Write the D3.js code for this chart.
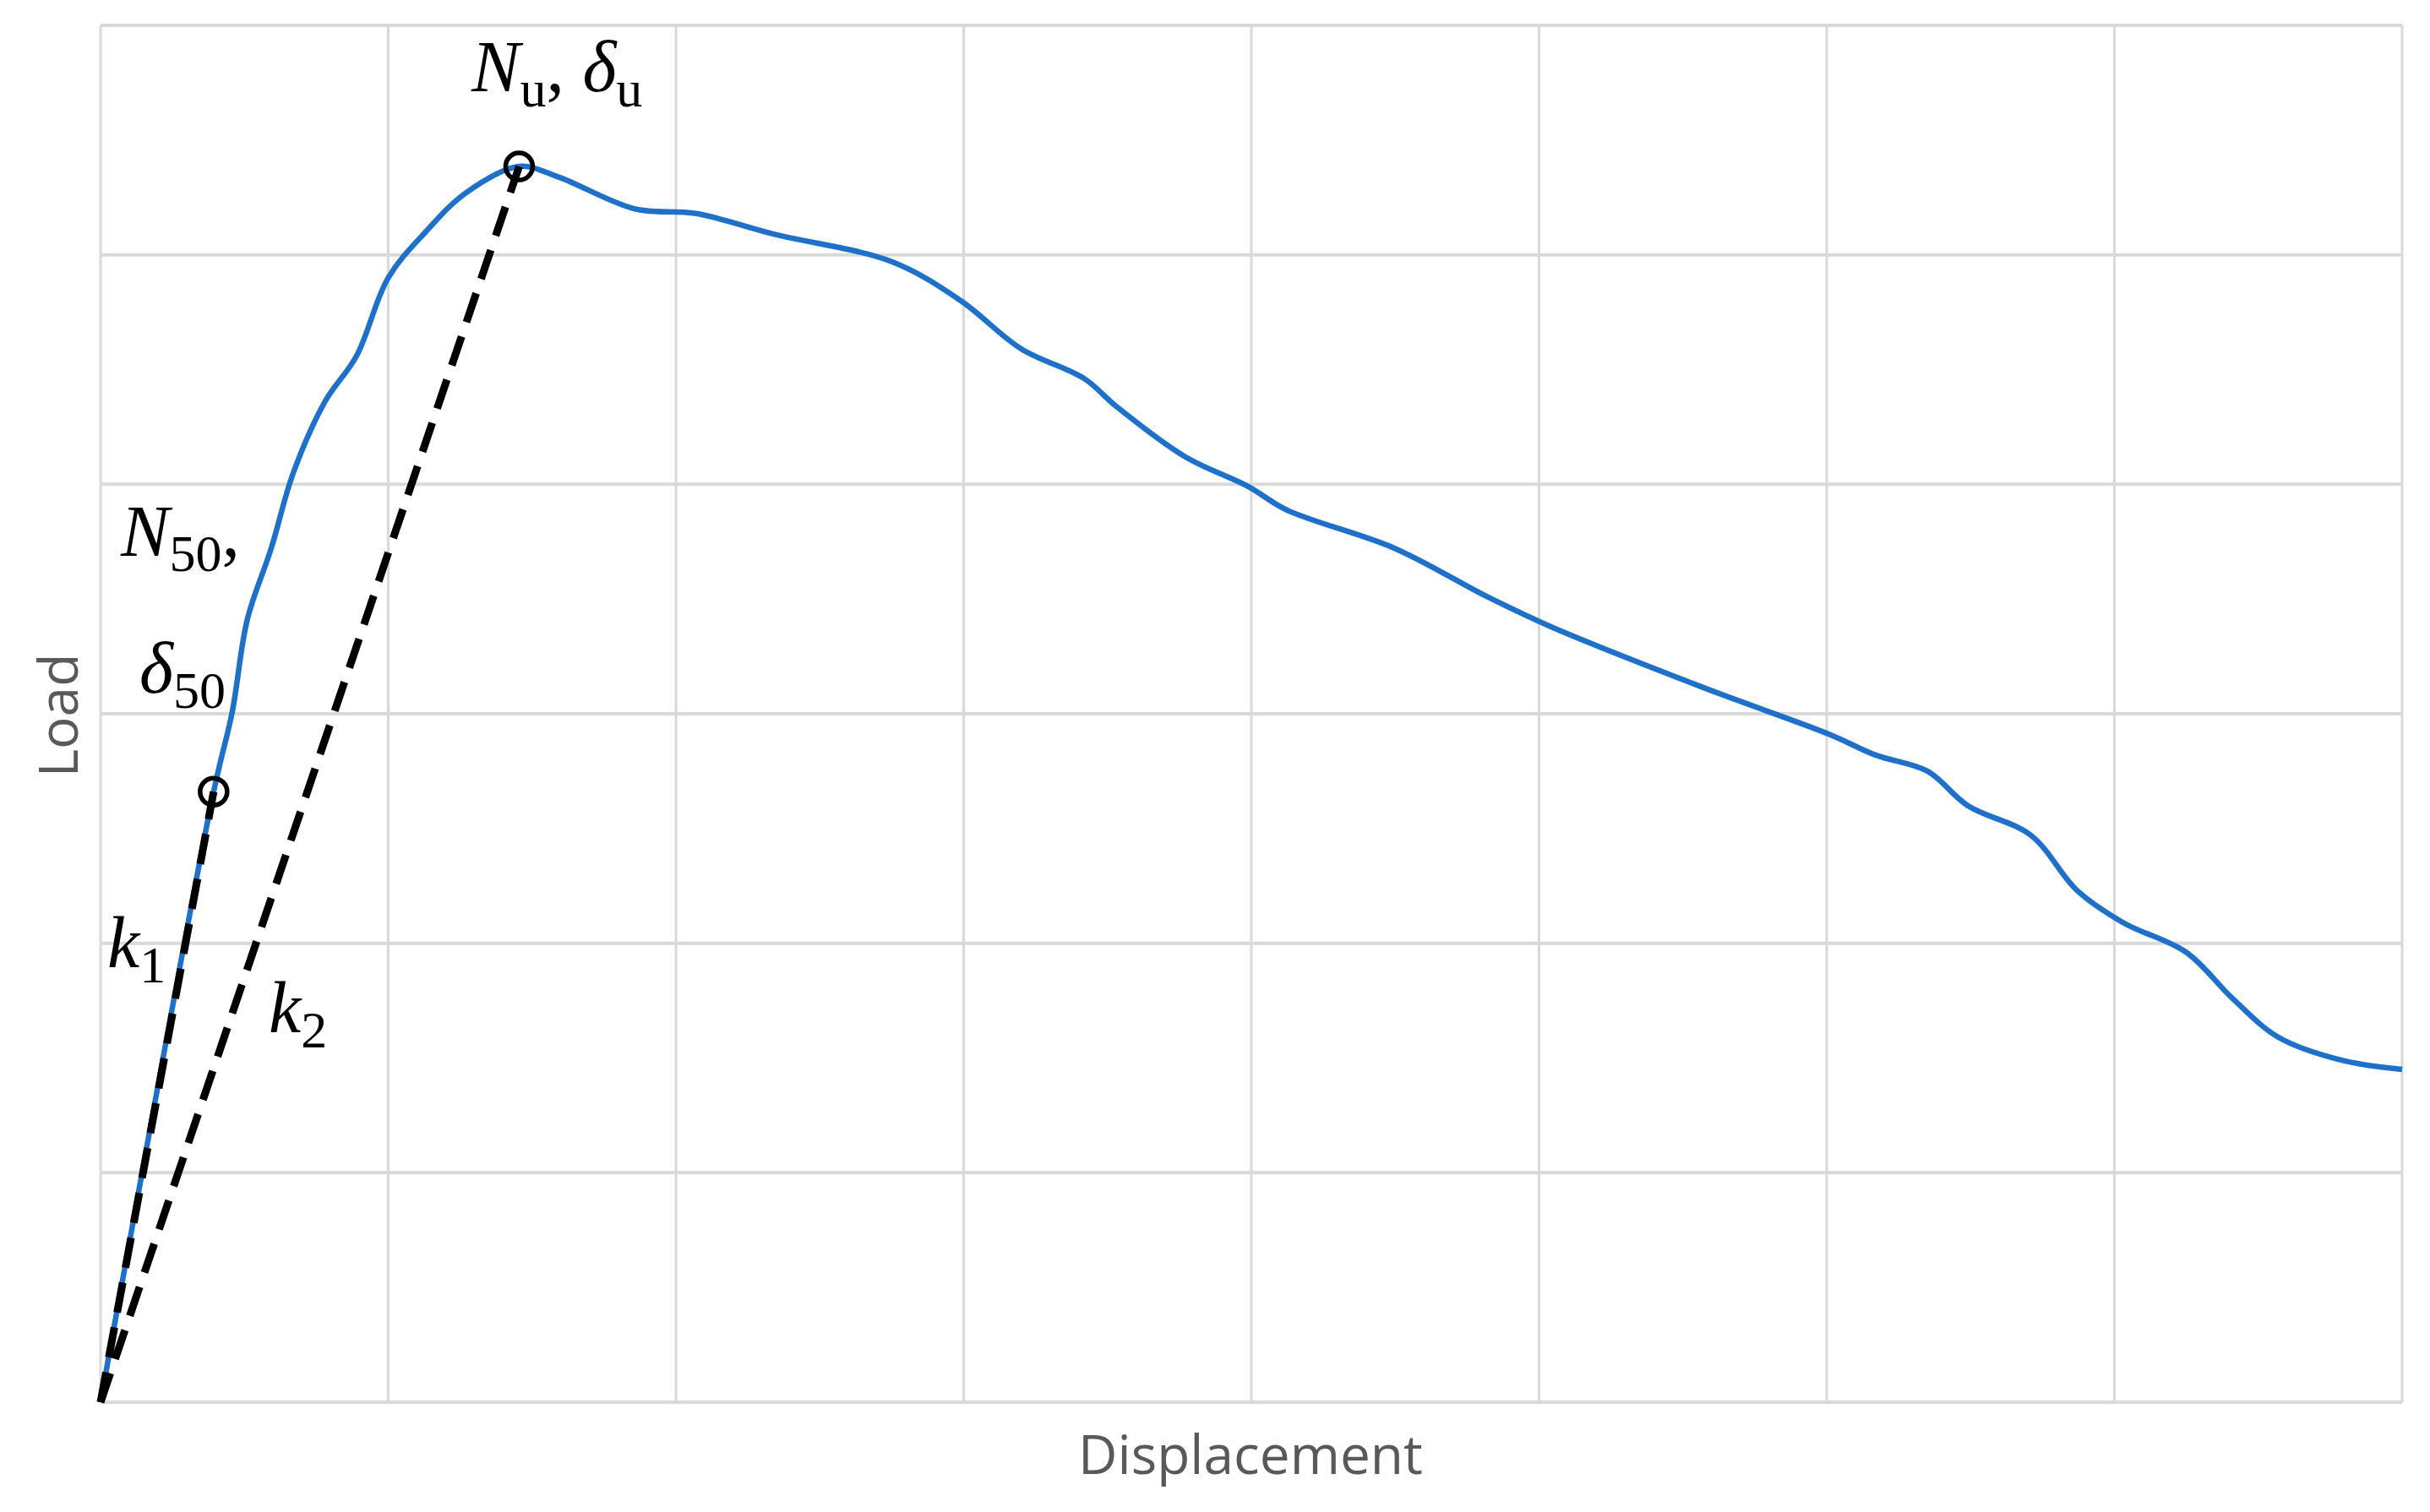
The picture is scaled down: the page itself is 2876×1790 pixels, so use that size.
<!DOCTYPE html>
<html><head><meta charset="utf-8">
<script src="https://cdn.jsdelivr.net/npm/d3@7"></script>
<style>body{margin:0;background:#fff}</style>
</head><body>
<svg width="2876" height="1790"></svg>
<script>
// load-displacement curve (arbitrary units)
var dispX = [0, 0.393, 0.458, 0.51, 0.593, 0.67, 0.78, 0.89, 1.0, 1.13, 1.27, 1.455, 1.59, 1.858, 2.07, 2.34, 2.75, 2.99, 3.2, 3.42, 3.53, 3.77, 3.99, 4.12, 4.5, 4.82, 5.04, 5.58, 6.01, 6.17, 6.35, 6.49, 6.71, 6.87, 7.03, 7.25, 7.41, 7.57, 7.79, 8.0];
var loadY = [0, 2.66, 3.01, 3.41, 3.72, 4.05, 4.36, 4.56, 4.9, 5.1, 5.27, 5.385, 5.34, 5.2, 5.18, 5.09, 4.97, 4.8, 4.59, 4.46, 4.34, 4.12, 3.99, 3.89, 3.72, 3.51, 3.38, 3.11, 2.91, 2.82, 2.75, 2.6, 2.47, 2.23, 2.09, 1.96, 1.76, 1.59, 1.49, 1.45];
var p50 = [0.393, 2.66];
var pu = [1.455, 5.385];
var xTicks = [0, 1, 2, 3, 4, 5, 6, 7, 8];
var yTicks = [0, 1, 2, 3, 4, 5, 6];

var svg = d3.select("svg");
var x = d3.scaleLinear().domain([0, 8]).range([119, 2843]);
var y = d3.scaleLinear().domain([0, 6]).range([1660, 30]);

var grid = svg.append("g");
grid.selectAll(".v").data(xTicks).enter().append("line")
	.attr("x1", d=>x(d)).attr("x2", d=>x(d)).attr("y1", y(0)).attr("y2", y(6))
	.style("stroke", "#d9d9d9").style("stroke-width", 3);
grid.selectAll(".h").data(yTicks).enter().append("line")
	.attr("x1", x(0)).attr("x2", x(8)).attr("y1", d=>y(d)).attr("y2", d=>y(d))
	.style("stroke", "#d9d9d9").style("stroke-width", 4);

var pts = dispX.map((d, i) => [d, loadY[i]]);
var line = d3.line().x(d=>x(d[0])).y(d=>y(d[1])).curve(d3.curveCatmullRom);
svg.append("path").attr("d", line(pts))
	.style("fill", "none").style("stroke", "#1f70c8").style("stroke-width", 6.5);

[p50, pu].forEach(function(p){
	svg.append("line").attr("x1", x(0)).attr("y1", y(0)).attr("x2", x(p[0])).attr("y2", y(p[1]))
		.style("stroke", "#000").style("stroke-width", 9).style("stroke-dasharray", "36,18");
	svg.append("circle").attr("cx", x(p[0])).attr("cy", y(p[1])).attr("r", 16)
		.style("fill", "none").style("stroke", "#000").style("stroke-width", 5.5);
});

function label(px, py, main, sub, tail){
	var t = svg.append("text").attr("x", px).attr("y", py)
		.style("font-family", "Liberation Serif").style("font-size", "86px");
	t.append("tspan").style("font-style", "italic").text(main);
	t.append("tspan").attr("dy", 18).style("font-size", "62px").text(sub);
	if (tail) t.append("tspan").attr("dy", -18).text(tail);
	return t;
}
var t = label(558, 108, "N", "u", ", ");
t.append("tspan").style("font-style", "italic").text("δ");
t.append("tspan").attr("dy", 18).style("font-size", "62px").text("u");
label(143, 658, "N", "50", ",");
label(165, 820, "δ", "50");
label(127, 1145, "k", "1");
label(318, 1222, "k", "2");

svg.append("text").attr("x", 1480).attr("y", 1745).attr("text-anchor", "middle")
	.style("font-family", "Open Sans").style("font-size", "64px").style("fill", "#595959").text("Displacement");
svg.append("text").attr("transform", "translate(92,847) rotate(-90)").attr("text-anchor", "middle")
	.style("font-family", "Open Sans").style("font-size", "64px").style("fill", "#595959").text("Load");
</script>
</body></html>
